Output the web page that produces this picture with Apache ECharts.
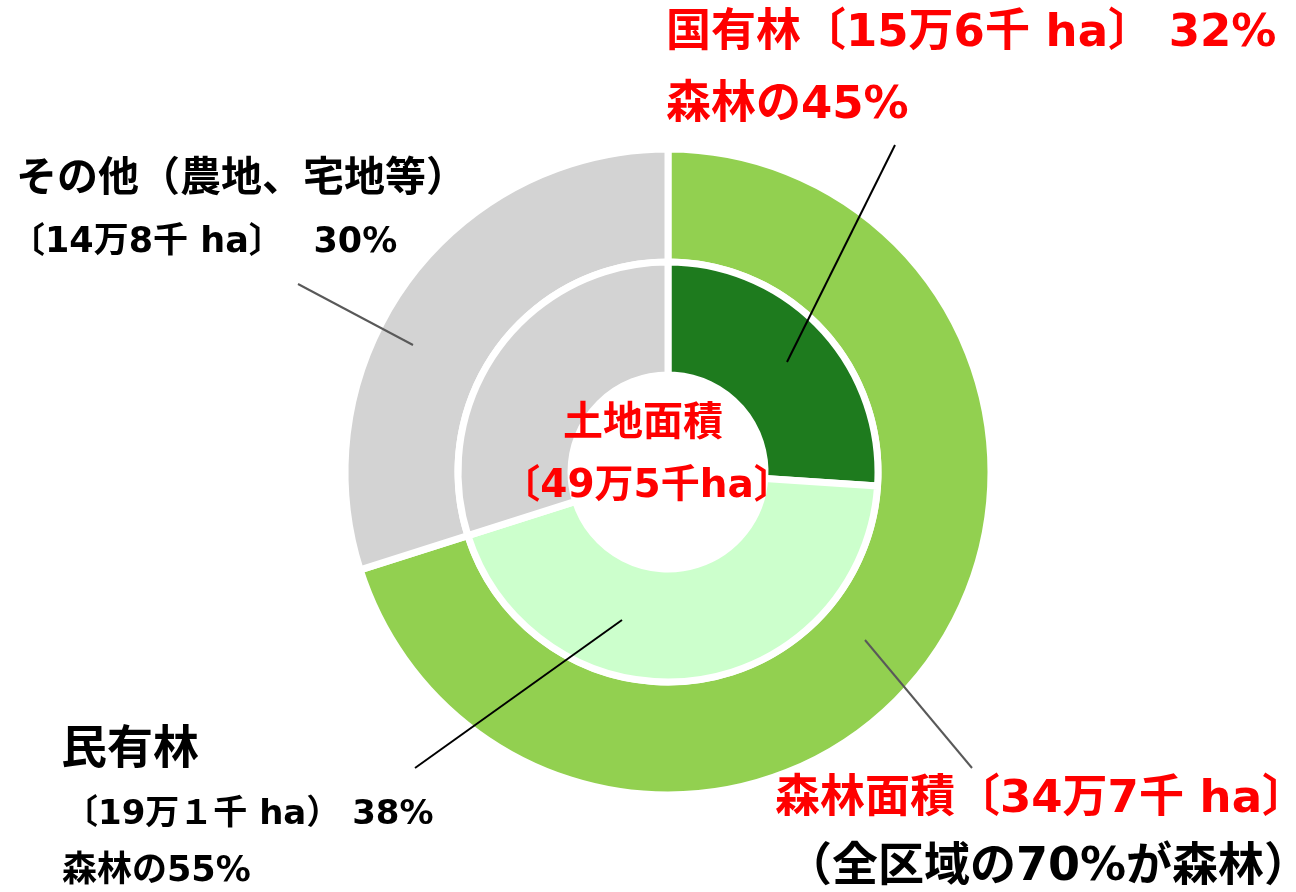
<!DOCTYPE html>
<html><head><meta charset="utf-8">
<script src="https://cdn.jsdelivr.net/npm/echarts@6/dist/echarts.min.js"></script>
<style>html,body{margin:0;padding:0;background:#fff}#c{width:1296px;height:892px}</style>
</head><body><div id="c"></div>
<script>
// Outer ring: land use (千ha)
const outerNames = ['森林', 'その他'];
const outerValues = [347, 148];
const outerColors = ['#92D050', '#D3D3D3'];
const innerNames = ['国有林', '民有林', 'その他'];
const innerValues = [129, 218, 148];
const innerColors = ['#1E7B1E', '#CCFFCC', '#D3D3D3'];

const FONT = '"DejaVu Sans", "Noto Sans CJK JP", sans-serif';
const chart = echarts.init(document.getElementById('c'), null, {renderer: 'canvas'});

function txt(text, x, y, size, color, align) {
  return {type: 'text', x: x, y: y, z: 10,
    style: {text: text, fill: color, font: 'bold ' + size + 'px ' + FONT,
      textAlign: align || 'left', textVerticalAlign: 'middle'}};
}
function line(x1, y1, x2, y2, color, w) {
  return {type: 'line', z: 9, shape: {x1: x1, y1: y1, x2: x2, y2: y2},
    style: {stroke: color, lineWidth: w}};
}

chart.setOption({
  animation: false,
  backgroundColor: '#fff',
  series: [
    {type: 'pie', center: [668, 472], radius: [210, 323], startAngle: 90, clockwise: true,
      silent: true, label: {show: false}, labelLine: {show: false},
      itemStyle: {borderColor: '#fff', borderWidth: 7},
      data: outerNames.map((n, i) => ({name: n, value: outerValues[i], itemStyle: {color: outerColors[i]}}))},
    {type: 'pie', center: [668, 472], radius: [97, 210], startAngle: 90, clockwise: true,
      silent: true, label: {show: false}, labelLine: {show: false},
      itemStyle: {borderColor: '#fff', borderWidth: 7},
      data: innerNames.map((n, i) => ({name: n, value: innerValues[i], itemStyle: {color: innerColors[i]}}))}
  ],
  graphic: [
    line(787, 362, 895, 145, '#000', 2),
    line(622, 620, 415, 768, '#000', 2),
    line(413, 345, 298, 284, '#595959', 2),
    line(865, 640, 972, 768, '#595959', 2),
    txt('国有林〔15万6千 ha〕 32%', 666, 34, 45, '#FF0000'),
    txt('森林の45%', 666, 106, 45, '#FF0000'),
    txt('その他（農地、宅地等）', 16, 180, 41, '#000'),
    txt('〔14万8千 ha〕　 30%', 10, 243, 35, '#000'),
    txt('民有林', 61, 751, 46, '#000'),
    txt('〔19万１千 ha） 38%', 64, 815, 34, '#000'),
    txt('森林の55%', 62, 872, 35, '#000'),
    txt('森林面積〔34万7千 ha〕', 775, 800, 45, '#FF0000'),
    txt('（全区域の70%が森林）', 786, 868, 46, '#000'),
    txt('土地面積', 643, 425, 40, '#FF0000', 'center'),
    txt('〔49万5千ha〕', 647, 487, 39, '#FF0000', 'center')
  ]
});
</script></body></html>
